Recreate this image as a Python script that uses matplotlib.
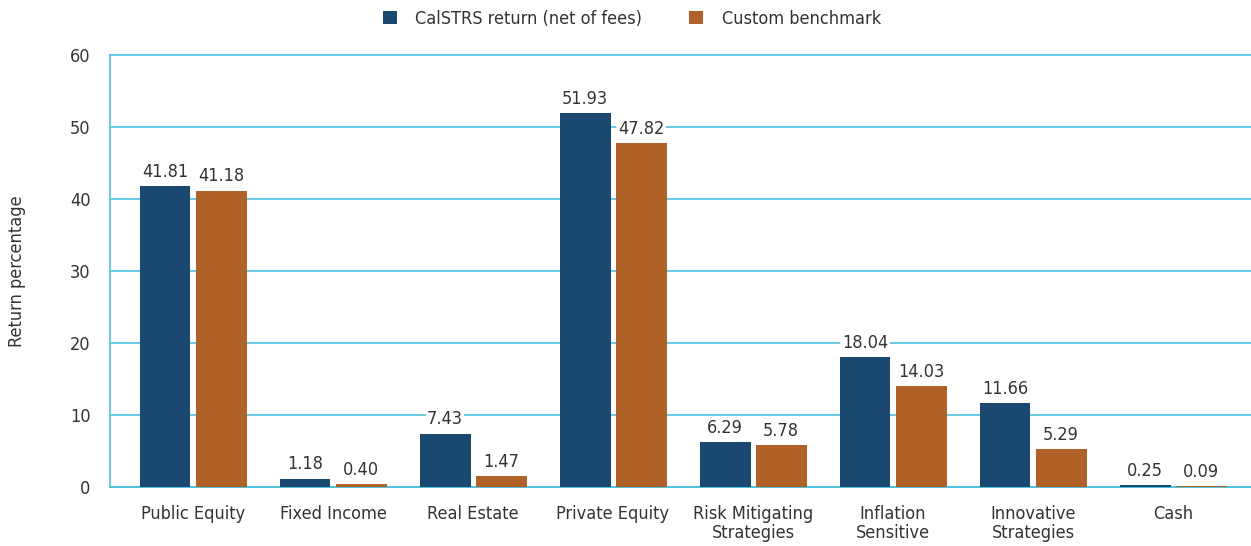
from matplotlib import pyplot as plt
from matplotlib import font_manager
import numpy as np
import matplotlib

matplotlib.use("Agg")

categories = ["Public Equity", "Fixed Income", "Real Estate", "Private Equity",
              "Risk Mitigating\nStrategies", "Inflation\nSensitive",
              "Innovative\nStrategies", "Cash"]
calstrs = [41.81, 1.18, 7.43, 51.93, 6.29, 18.04, 11.66, 0.25]
benchmark = [41.18, 0.40, 1.47, 47.82, 5.78, 14.03, 5.29, 0.09]
series_names = ["CalSTRS return (net of fees)", "Custom benchmark"]

# prefer a narrow face if there is one
files = [f for f in font_manager.fontManager.ttflist]
narrow = [f for f in files if f.name == "Liberation Sans Narrow"]
dvc = [f for f in files if f.name == "DejaVu Sans" and "ondensed" in f.fname]
if narrow:
    plt.rcParams["font.family"] = ["Liberation Sans Narrow", "DejaVu Sans"]
    plt.rcParams["font.weight"] = "bold"
elif dvc:
    plt.rcParams["font.family"] = ["DejaVu Sans"]
    plt.rcParams["font.stretch"] = "condensed"
else:
    plt.rcParams["font.family"] = ["Roboto", "DejaVu Sans"]
    plt.rcParams["font.weight"] = "medium"

navy = "#1b4870"
rust = "#b06127"
grid = "#4fc1df"
txt = "#333333"
fs = 13

fig = plt.figure(figsize=(12.51, 5.46), dpi=100)
ax = fig.add_axes([110 / 1251, 1 - 487 / 546, 1141 / 1251, 432 / 546])

x = np.arange(len(categories))
w = 0.364
b1 = ax.bar(x - 0.2, calstrs, w, color=navy, label=series_names[0], zorder=3)
b2 = ax.bar(x + 0.2, benchmark, w, color=rust, label=series_names[1], zorder=3)

for bars, vals in [(b1, calstrs), (b2, benchmark)]:
    for r, v in zip(bars, vals):
        ax.text(r.get_x() + r.get_width() / 2, v + 0.7, f"{v:.2f}",
                ha="center", va="bottom", fontsize=fs, color=txt, zorder=4,
                bbox=dict(facecolor="white", edgecolor="none", pad=1.0))

ax.set_xlim(-0.593, 7.557)
ax.set_ylim(0, 60)
ax.set_yticks(range(0, 61, 10))
ax.yaxis.grid(True, color=grid, linewidth=1.2, zorder=0)
for gl in ax.get_ygridlines():
    gl.set_clip_on(False)
ax.set_axisbelow(True)
for s in ["top", "right"]:
    ax.spines[s].set_visible(False)
for s in ["left", "bottom"]:
    ax.spines[s].set_color(grid)
    ax.spines[s].set_linewidth(1.2)
ax.tick_params(axis="both", length=0, labelsize=fs, colors=txt)
ax.tick_params(axis="y", pad=14)
ax.tick_params(axis="x", pad=13)
ax.set_xticks(x)
ax.set_xticklabels(categories, linespacing=1.05)
ax.set_ylabel("Return percentage", fontsize=fs, color=txt)
ax.yaxis.set_label_coords(-0.074, 0.5)

leg = fig.legend(loc="upper center", bbox_to_anchor=(0.505, 1.012), ncol=2,
                 frameon=False, fontsize=fs, handlelength=0.8, handleheight=0.8,
                 columnspacing=2.6, handletextpad=1.0)
for t in leg.get_texts():
    t.set_color(txt)

plt.savefig("out.png", dpi=100)
